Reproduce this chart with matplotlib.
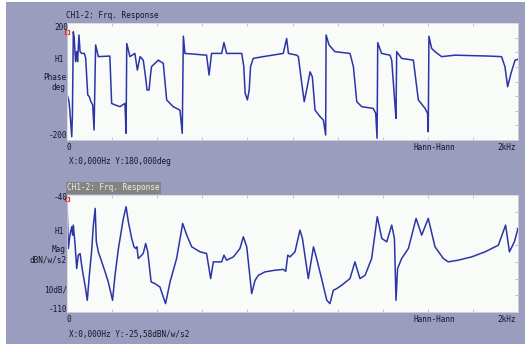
import numpy as np
import matplotlib
matplotlib.use("Agg")
import matplotlib.pyplot as plt
from matplotlib.patches import Rectangle

# phase curve (Hz, deg)
phase_hz = [0, 1, 9, 13, 21, 24, 28, 32, 38, 43, 47, 53, 58, 65, 77, 83, 87, 92, 99,
            106, 114, 120, 127, 139, 190, 198, 213, 235, 257, 262, 265, 279, 301, 312,
            324, 338, 346, 355, 364, 370, 375, 405, 427, 442, 471, 501, 511, 516, 523,
            619, 630, 641, 686, 696, 708, 775, 784, 790, 800, 808, 814, 826, 870,
            959, 974, 982, 1019, 1026, 1041, 1052, 1065, 1078, 1088, 1100, 1122, 1137,
            1147, 1149, 1162, 1188, 1255, 1270, 1285, 1307, 1358, 1369, 1375, 1378,
            1395, 1432, 1440, 1455, 1459, 1462, 1484, 1536, 1558, 1588, 1599, 1602,
            1605, 1617, 1632, 1661, 1721, 1868, 1927, 1942, 1954, 1969, 1987, 2000]
phase_deg = [182, -46, -69, -103, -189, -115, 170, 148, 68, 102, 68, 159, 102, 96, 96, 79,
             22, -46, -52, -69, -80, -166, 125, 85, 87, -75, -80, -86, -75, -177, 130, 85,
             96, 39, 85, 73, 30, -29, -29, 20, 51, 73, 62, -63, -86, -98, -177, 155, 96,
             90, 22, 96, 96, 133, 96, 96, 51, -40, -63, -29, 51, 79, 85,
             96, 147, 96, 90, 85, -6, -69, -20, 33, 16, -98, -120, -132,
             -183, 159, 125, 102, 96, 51, -69, -86, -92, -109, -194, 133,
             96, 90, 73, -86, -126, 102, 79, 73, -63, -92, -109, -172,
             155, 113, 102, 85, 90, 87, 85, 51, -18, 28, 73, 76]

# magnitude curve (Hz, dB)
mag_hz = [0, 2, 6, 13, 21, 25, 28, 36, 43, 50, 58, 65, 72, 80, 90, 99, 109, 117, 125,
          130, 139, 154, 169, 183, 202, 213, 228, 250, 262, 272, 287, 297, 305, 310,
          316, 324, 338, 349, 358, 373, 390, 412, 437, 457, 486, 513, 531, 553, 590,
          619, 637, 649, 686, 696, 708, 738, 767, 782, 797, 809, 819, 834, 849, 878,
          923, 959, 970, 979, 989, 1011, 1033, 1044, 1070, 1093, 1107, 1129, 1152,
          1166, 1181, 1196, 1218, 1255, 1277, 1299, 1322, 1351, 1376, 1396, 1418,
          1440, 1452, 1459, 1466, 1484, 1514, 1548, 1573, 1602, 1632, 1669, 1691,
          1735, 1795, 1854, 1913, 1945, 1962, 1984, 2000]
mag_db = [-41, -54, -72, -64, -59, -64, -58, -70, -84, -76, -75, -82, -88, -94, -103,
          -88, -74, -58, -48, -68, -74, -80, -86, -92, -103, -88, -72, -54, -47, -56,
          -66, -71, -72, -71, -78, -77, -75, -69, -74, -92, -93, -95, -105, -92, -78,
          -57, -64, -71, -74, -75, -90, -80, -80, -76, -79, -77, -72, -65, -71, -86,
          -99, -91, -88, -86, -85, -84.5, -85.7, -76, -77, -74, -61, -66, -90, -71,
          -78, -90, -103, -105, -97, -96, -94, -90, -80, -90, -88, -78, -53, -66,
          -68, -58, -66, -103, -84, -78, -72, -54, -64, -54, -71, -78, -80, -79,
          -77, -74, -70, -58, -74, -68, -60]

cursor_hz = 0.0
cursor_phase = 180.0
cursor_mag = -25.58

W, H = 525, 344
bg = "#9a9dbd"
txt = "#15152a"
line_c = "#2c35a6"
fs = 5.6
plt.rcParams['font.family'] = ['DejaVu Sans Mono']


def fx(px):
    return px / W


def fy(py):
    return 1 - py / H


fig = plt.figure(figsize=(5.25, 3.44), dpi=100)
fig.patch.set_facecolor("white")
fig.patches.append(Rectangle((fx(6), 0), 1 - fx(6), fy(2), transform=fig.transFigure,
                             facecolor=bg, edgecolor="none", zorder=-10))


def make_axes(top_px, ylo, yhi, ny, xs, ys, cursor_y):
    ax = fig.add_axes([fx(67), fy(top_px + 117), fx(451), 117 / H])
    ax.set_facecolor("#f9fbf9")
    ax.plot(xs, ys, color=line_c, lw=1.1, solid_joinstyle="round")
    # cursor marker, held inside the frame when the value is off scale
    ax.plot([cursor_hz], [np.clip(cursor_y, ylo, yhi) - (yhi - ylo) * 0.03], marker="s",
            ms=3.5, mfc="none", mec="#e03030", mew=0.9, clip_on=False)
    ax.set_xlim(0, 2000)
    ax.set_ylim(ylo, yhi)
    ax.set_xticks(np.linspace(0, 2000, 11))
    ax.set_yticks(np.linspace(ylo, yhi, ny + 1))
    ax.tick_params(direction="in", length=2.5, width=0.6, color="#b8b8c0",
                   top=True, bottom=True, right=True, left=False,
                   labelbottom=False, labelleft=False)
    for s in ax.spines.values():
        s.set_color("#d8d8e0")
        s.set_linewidth(0.6)
    return ax


ax1 = make_axes(23, -200, 200, 8, phase_hz, phase_deg, cursor_phase)
ax2 = make_axes(195, -110, -40, 7, mag_hz, mag_db, cursor_mag)


def label(px, py, s, ha="left", **kw):
    fig.text(fx(px), fy(py), s, ha=ha, va="center", fontsize=fs, color=txt, **kw)


# upper panel texts
label(66, 16, "CH1-2: Frq. Response")
label(68, 27, "200", ha="right")
label(64, 60, "H1", ha="right")
label(66, 77, "Phase", ha="right")
label(65, 88, "deg", ha="right")
label(67, 136, "-200", ha="right")
label(69, 147, "0", ha="center")
label(413, 147, "Hann-Hann")
label(497, 147, "2kHz")
label(69, 162, "X:0,000Hz Y:180,000deg")

# lower panel texts
fig.text(fx(67), fy(188), "CH1-2: Frq. Response", ha="left", va="center", fontsize=fs,
         color="#ececec", bbox=dict(facecolor="#848484", edgecolor="none", pad=0.8))
label(68, 198, "-40", ha="right")
label(64, 232, "H1", ha="right")
label(66, 249, "Mag", ha="right")
label(67, 260, "dBN/w/s2", ha="right")
label(67, 290, "10dB/", ha="right")
label(67, 309, "-110", ha="right")
label(69, 319, "0", ha="center")
label(413, 320, "Hann-Hann")
label(497, 320, "2kHz")
label(69, 334, "X:0,000Hz Y:-25,58dBN/w/s2")

fig.savefig("out.png", dpi=100, facecolor=fig.get_facecolor())
